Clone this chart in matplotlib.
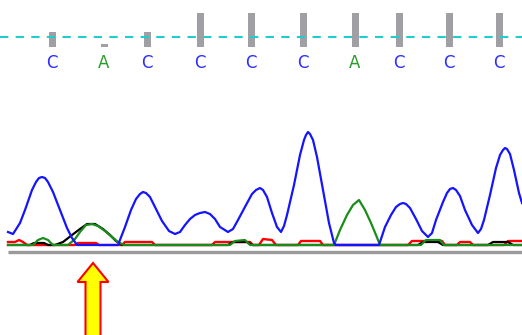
import numpy as np
import matplotlib.pyplot as plt
from matplotlib.patches import FancyArrow

# called bases, their scan positions and quality bar heights
bases = ['C', 'A', 'C', 'C', 'C', 'C', 'A', 'C', 'C', 'C']
base_pos = [52, 104, 147, 200, 251, 303, 355, 399, 449, 499]
quality = [15, 3, 15, 34, 34, 34, 34, 34, 34, 34]

# trace intensities (scan position, signal)
blue_x = [8, 13, 20, 25, 32, 36, 39, 42, 45, 48, 53, 60, 67, 72, 77, 118, 125, 131, 136, 140,
          143, 146, 150, 155, 162, 169, 175, 180, 185, 190, 195, 200, 205, 210, 215, 220, 228, 233,
          238, 246, 252, 256, 260, 263, 267, 272, 277, 281, 284, 287, 294, 300, 304, 306, 308, 310,
          313, 317, 323, 329, 334, 336, 379, 385, 391, 396, 400, 403, 406, 410, 416, 422, 428, 432,
          436, 443, 447, 450, 453, 456, 460, 465, 472, 478, 481, 484, 490, 496, 500, 503, 505, 507,
          510, 514, 519, 522]
blue_y = [13, 11, 22, 35, 55, 63, 67, 68, 67, 63, 53, 35, 17, 7, 0, 0, 18, 35, 46, 51,
          53, 52, 48, 38, 24, 14, 11, 13, 20, 26, 30, 32, 33, 31, 26, 18, 13, 16,
          25, 40, 51, 55, 57, 55, 48, 32, 18, 13, 19, 30, 60, 90, 105, 110, 113, 111,
          105, 88, 55, 22, 2, 0, 0, 18, 30, 38, 41, 42, 41, 37, 26, 14, 8, 12,
          25, 43, 52, 56, 57, 55, 49, 35, 20, 12, 16, 25, 50, 77, 90, 95, 97, 96,
          91, 75, 52, 42]

green_x = [8, 33, 38, 43, 48, 53, 68, 75, 80, 86, 92, 98, 105, 112, 118, 124, 230, 235, 245, 250,
           334, 340, 347, 353, 359, 365, 371, 376, 380, 421, 426, 440, 444, 522]
green_y = [0, 0, 5, 7, 5, 0, 0, 6, 13, 20, 21, 19, 14, 8, 3, 0, 0, 4, 5, 0,
           0, 15, 30, 40, 45, 35, 22, 10, 0, 0, 5, 5, 0, 0]

black_x = [8, 30, 34, 44, 48, 55, 63, 72, 80, 87, 95, 103, 110, 116, 122, 228, 233, 247, 252,
           418, 423, 438, 443, 488, 493, 508, 513, 522]
black_y = [0, 0, 2, 2, 0, 0, 3, 10, 16, 21, 21, 16, 10, 4, 0, 0, 3, 3, 0,
           0, 3, 3, 0, 0, 3, 3, 0, 0]

red_x = [8, 15, 19, 23, 27, 75, 78, 96, 99, 122, 125, 152, 155, 212, 215, 250, 253, 259, 263, 272,
         276, 298, 301, 320, 323, 408, 412, 442, 445, 457, 460, 470, 473, 504, 508, 522]
red_y = [3, 3, 5, 3, 0, 0, 2, 2, 0, 0, 3, 3, 0, 0, 3, 3, 0, 0, 6, 5,
         0, 0, 4, 4, 0, 0, 4, 4, 0, 0, 3, 3, 0, 0, 4, 4]

base_colors = {'C': '#2e2eff', 'A': '#2b9b2b'}

fig = plt.figure(figsize=(5.22, 3.35), dpi=100)

# trace panel
ax = fig.add_axes([0, 80 / 335, 1, 130 / 335])
ax.set_xlim(0, 522)
ax.set_ylim(-10, 120)
ax.axis('off')
ax.plot([8, 522], [-6.5, -6.5], color='#9a9a9a', lw=2.4, solid_capstyle='butt')
ax.plot(red_x, red_y, color='#ff0000', lw=1.7)
ax.plot(black_x, black_y, color='#000000', lw=1.6)
ax.plot(green_x, green_y, color='#1a8c1a', lw=1.6)
ax.plot(blue_x, blue_y, color='#1414ff', lw=1.6)

# header with quality bars, base calls and the arrow
top = fig.add_axes([0, 0, 1, 1], facecolor='none')
top.set_xlim(0, 522)
top.set_ylim(335, 0)
top.axis('off')
top.bar(base_pos, [-q for q in quality], bottom=46.5, width=7, color='#a0a0a4')
top.plot([0, 522], [37, 37], color='#22cccc', lw=1.5, dashes=(4, 3.5))
for b, x in zip(bases, base_pos):
    top.text(x, 63, b, color=base_colors[b], fontsize=12, family='DejaVu Sans',
             ha='center', va='center')

top.add_patch(FancyArrow(93, 345, 0, -82, width=15, head_width=31, head_length=19,
                         length_includes_head=True, facecolor='#ffff00', edgecolor='#ff0000',
                         lw=1.5))

fig.savefig('out.png', dpi=100)
